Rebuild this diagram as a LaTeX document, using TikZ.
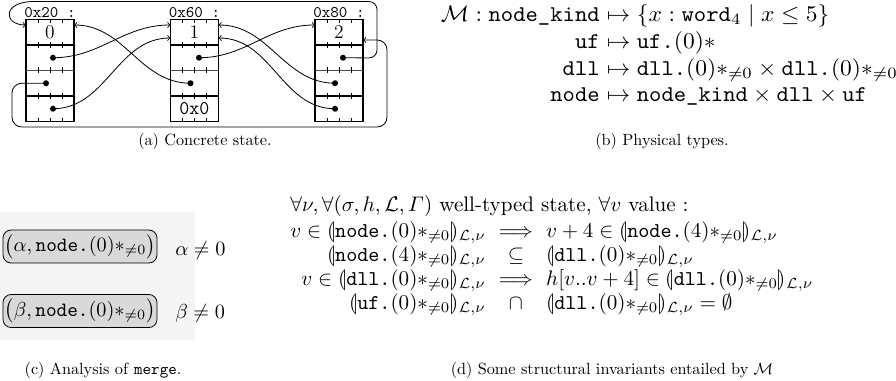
\documentclass[tikz,border=0pt]{standalone}
\usepackage{amsmath}
\usepackage{stmaryrd}
\usepackage{graphicx}
\usetikzlibrary{calc}
\newcommand{\scB}[1]{\scalebox{1.45}[1.39]{#1}}
\newcommand{\scC}[1]{\scalebox{1.25}{#1}}
\newcommand{\scD}[1]{\scalebox{1.3}{#1}}
\newcommand{\tnz}{{*}_{\neq 0}}
\newcommand{\sem}[1]{\llparenthesis #1 \rrparenthesis_{\mathcal{L},\nu}}
\begin{document}
\begin{tikzpicture}[x=0.617pt,y=-0.617pt, >=to,
  cellrow/.style={minimum width=29.6pt, minimum height=15.73pt, inner sep=0pt, outer sep=0pt, font=\large},
  ptr/.style={circle, fill=black, inner sep=0pt, minimum size=3.7pt},
  link/.style={->, line width=0.5pt},
  frame/.style={line width=0.65pt},
  tickl/.style={line width=0.45pt},
  lbl/.style={font=\ttfamily, inner sep=0pt},
  txt/.style={inner sep=0pt},
  captxt/.style={anchor=base, inner sep=0pt},
  typbox/.style={draw, line width=0.5pt, rounded corners=5pt, fill=black!15,
    minimum width=95pt, minimum height=20.4pt, inner sep=0pt}
]
\useasboundingbox (0,0) rectangle (896,381);

% ---------- (a) concrete state ----------
\foreach \bb/\lx/\kind in {20/26/0,60/170.5/1,80/315/2} {
  \node[cellrow, anchor=north west] (n\bb a) at (\lx,19.5) {\kind};
  \node[cellrow, anchor=north] (n\bb b) at (n\bb a.south) {};
  \node[cellrow, anchor=north] (n\bb c) at (n\bb b.south) {};
  \node[cellrow, anchor=north] (n\bb d) at (n\bb c.south) {};
  \draw[frame] (n\bb a.north west) rectangle (n\bb d.south east);
  \draw[frame] (n\bb a.south west) -- (n\bb a.south east);
  \draw[tickl, black!70] (n\bb b.south west) -- (n\bb b.south east);
  \draw[frame] (n\bb c.south west) -- (n\bb c.south east);
  \foreach \rw in {a,b,c,d} {
    \foreach \tq in {0.25,0.5,0.75} {
      \draw[tickl] ($(n\bb\rw.north west)!\tq!(n\bb\rw.north east)$) -- ++(0,3);
      \draw[tickl] ($(n\bb\rw.south west)!\tq!(n\bb\rw.south east)$) -- ++(0,-3);
    }
  }
  \node[lbl, anchor=base] (l\bb) at ($(n\bb a.north)+(0,-2.3)$) {0x\bb{} :};
}
\node[lbl, font=\large\ttfamily] (z60) at (n60d.center) {0x0};

% pointer dots
\node[ptr] (p20b) at ($(n20b.center)+(3,0)$) {};
\node[ptr] (p20c) at ($(n20c.center)+(-4,0)$) {};
\node[ptr] (p20d) at ($(n20d.center)+(3,0)$) {};
\node[ptr] (p60b) at ($(n60b.center)+(4.5,0)$) {};
\node[ptr] (p60c) at ($(n60c.center)+(-4,0)$) {};
\node[ptr] (p80b) at ($(n80b.center)+(4,0)$) {};
\node[ptr] (p80c) at ($(n80c.center)+(-4,0)$) {};
\node[ptr] (p80d) at ($(n80d.center)+(-4,0)$) {};

% arrow targets
\coordinate (t20L)  at ($(n20a.west)+(0,-7.25)$);
\coordinate (t20R)  at ($(n20a.east)+(0,-7.25)$);
\coordinate (t60L1) at ($(n60a.west)+(0,-7.25)$);
\coordinate (t60L2) at ($(n60a.west)+(0,5.75)$);
\coordinate (t60R1) at ($(n60a.east)+(0,-7.25)$);
\coordinate (t60R2) at ($(n60a.east)+(0,5.75)$);
\coordinate (t80L)  at ($(n80a.west)+(0,-7.25)$);
\coordinate (t80R)  at ($(n80a.east)+(0,7.75)$);

\draw[link] (p20b.center) to[out=0,in=180] (t60L1);
\draw[link] (p20d.center) to[out=0,in=180] (t60L2);
\draw[link] (p60c.center) to[out=180,in=0] (t20R);
\draw[link] (p60b.center) to[out=0,in=180] (t80L);
\draw[link] (p80c.center) to[out=180,in=0] (t60R1);
\draw[link] (p80d.center) to[out=180,in=0] (t60R2);
\draw[link, rounded corners=5pt] (p80b.center) -- (377,58.0) -- (377,1.5) -- (42,1.5)
   .. controls (2,1.5) and (3,25) .. (t20L);
\draw[link, rounded corners=6pt] (p20c.center) -- (12,83.25) -- (12,127) -- (387,127) |- (t80R);

% ---------- (b) physical types ----------
\node[txt, anchor=base east] (b1l) at (600,21) {\scB{$\mathcal{M} : \texttt{node\_kind}$}};
\node[txt, anchor=base west] (b1r) at (600,21) {\scB{${}\mapsto \{x : \texttt{word}_4 \mid x \le 5\}$}};
\node[txt, anchor=base east] (b2l) at (600,48) {\scB{$\texttt{uf}$}};
\node[txt, anchor=base west] (b2r) at (600,48) {\scB{${}\mapsto \texttt{uf.}(0){*}$}};
\node[txt, anchor=base east] (b3l) at (600,75) {\scB{$\texttt{dll}$}};
\node[txt, anchor=base west] (b3r) at (600,75)
  {\scB{${}\mapsto \texttt{dll.}(0)\tnz \times \texttt{dll.}(0)\tnz$}};
\node[txt, anchor=base east] (b4l) at (600,101.5) {\scB{$\texttt{node}$}};
\node[txt, anchor=base west] (b4r) at (600,101.5)
  {\scB{${}\mapsto \texttt{node\_kind} \times \texttt{dll} \times \texttt{uf}$}};

% ---------- (c) analysis of merge ----------
\fill[black!4] (0,212) rectangle (195,340);
\node[typbox] (ca) at (80,246.5) {\scC{$\bigl(\alpha, \texttt{node.}(0)\tnz\bigr)$}};
\node[typbox] (cb) at (80,311) {\scC{$\bigl(\beta, \texttt{node.}(0)\tnz\bigr)$}};
\node[txt, anchor=base west] (cac) at (175,255) {\scC{$\alpha \neq 0$}};
\node[txt, anchor=base west] (cbc) at (175,318) {\scC{$\beta \neq 0$}};

% ---------- (d) invariants ----------
\node[txt, anchor=base west] (d0) at (290,211)
  {\scD{$\forall\nu, \forall(\sigma, h, \mathcal{L}, \varGamma)$ well-typed state, $\forall v$ value :}};
\node[txt, anchor=base west] (d1) at (290,237) {\scD{\renewcommand{\arraystretch}{0.95}$\begin{array}[t]{@{}r@{\hspace{3.5pt}}c@{\hspace{3.5pt}}l@{}}
 v \in \sem{\texttt{node.}(0)\tnz} & \implies & v + 4 \in \sem{\texttt{node.}(4)\tnz} \\
 \sem{\texttt{node.}(4)\tnz} & \subseteq & \sem{\texttt{dll.}(0)\tnz} \\
 v \in \sem{\texttt{dll.}(0)\tnz} & \implies & h[v..v+4] \in \sem{\texttt{dll.}(0)\tnz} \\
 \sem{\texttt{uf.}(0)\tnz} & \cap & \sem{\texttt{dll.}(0)\tnz} = \emptyset
\end{array}$}};

% ---------- captions ----------
\node[captxt] (capa) at (205,145) {(a) Concrete state.};
\node[captxt] (capb) at (662,145) {(b) Physical types.};
\node[captxt] (capc) at (103,374) {(c) Analysis of \texttt{merge}.};
\node[captxt] (capd) at (612,374) {(d) Some structural invariants entailed by $\mathcal{M}$};
\end{tikzpicture}
\end{document}
